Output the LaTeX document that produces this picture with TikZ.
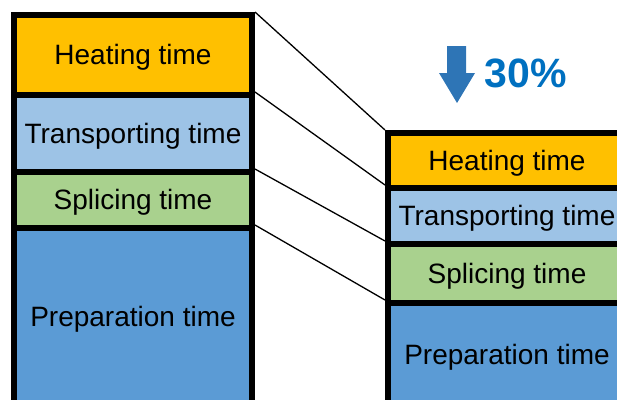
\documentclass[tikz,border=0pt]{standalone}
\usepackage{fontspec}
\setmainfont{Liberation Sans}
\usepackage{xcolor}
\definecolor{heatC}{HTML}{FFC000}
\definecolor{transC}{HTML}{9DC3E6}
\definecolor{spliceC}{HTML}{A9D18E}
\definecolor{prepC}{HTML}{5B9BD5}
\definecolor{arrowC}{HTML}{2E75B6}
\definecolor{pctC}{HTML}{0070C0}

\begin{document}
\begin{tikzpicture}[x=1pt,y=-1pt,
		tbox/.style={draw, line width=6pt, inner sep=0pt, minimum width=238pt,
			text height=19pt, text depth=0pt,
			font=\fontsize{28}{30}\selectfont},
		link/.style={line width=1.3pt}]
			\useasboundingbox (0,0) rectangle (617,399);
			% before
			\node[tbox, fill=heatC, minimum height=80pt] (heatL) at (133,55){Heating time};
			\node[tbox, fill=transC, minimum height=77pt] (transL) at (133,133.5){Transporting time};
			\node[tbox, fill=spliceC, minimum height=56pt] (spliceL) at (133,200){Splicing time};
			\node[tbox, fill=prepC, minimum height=178pt] (prepL) at (133,317){Preparation time};
			% after
			\node[tbox, fill=heatC, minimum height=55pt] (heatR) at (507,160.5){Heating time};
			\node[tbox, fill=transC, minimum height=56pt] (transR) at (507,216){Transporting time};
			\node[tbox, fill=spliceC, minimum height=59pt] (spliceR) at (507,273.5){Splicing time};
			\node[tbox, fill=prepC, minimum height=103pt] (prepR) at (507,354.5){Preparation time};
			\draw[link] (heatL.north east) -- (heatR.north west);
			\draw[link] (transL.north east) -- (transR.north west);
			\draw[link] (spliceL.north east) -- (spliceR.north west);
			\draw[link] (prepL.north east) -- (prepR.north west);
			% reduction
			\fill[arrowC] (447,46) -- (466,46) -- (466,73) -- (475,73) -- (457,103)
				-- (439,73) -- (447,73) -- cycle;
			\node[text=pctC, font=\fontsize{41}{44}\selectfont\bfseries] (pct) at (526,73){30\%};
		\end{tikzpicture}
\end{document}
